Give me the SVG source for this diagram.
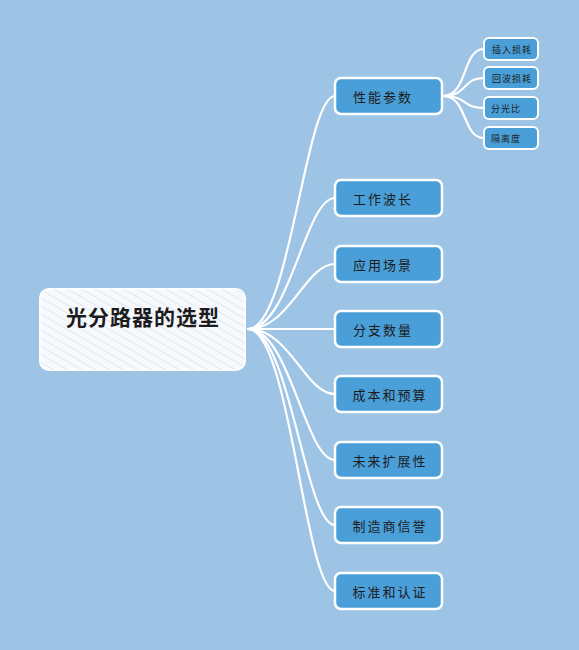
<svg xmlns="http://www.w3.org/2000/svg" width="579" height="650" viewBox="0 0 579 650">
<defs>
<style>
.bg{fill:#9dc3e5}
.root{fill:#f7f9fc;stroke:#ffffff;stroke-width:2}
.br{fill:#4a9fd8;stroke:#ffffff;stroke-width:2.5}
.sub{fill:#4a9fd8;stroke:#ffffff;stroke-width:2}
.t{font-family:"Noto Sans CJK SC","Noto Sans",sans-serif;fill:#1c1c1c;text-anchor:middle;dominant-baseline:central}
.tr{font-size:21px;font-weight:bold;letter-spacing:1px}
.tb{font-size:13px;letter-spacing:2px}
.ts{font-size:9px;letter-spacing:1px}
.c{fill:none;stroke:#ffffff;stroke-width:2.2;stroke-linecap:round}
</style>
<pattern id="hatch" width="7" height="7" patternUnits="userSpaceOnUse" patternTransform="rotate(-60)">
<line x1="0" y1="0" x2="0" y2="7" stroke="#bcd0e8" stroke-width="0.8"/>
</pattern>
</defs>
<rect class="bg" x="0" y="0" width="579" height="650"/>
<g id="connectors">
<path class="c" d="M248,329 C290,329 305,96 335,96"/>
<path class="c" d="M248,329 C290,329 305,198 335,198"/>
<path class="c" d="M248,329 C290,329 305,264 335,264"/>
<path class="c" d="M248,329 L335,329"/>
<path class="c" d="M248,329 C290,329 305,394 335,394"/>
<path class="c" d="M248,329 C290,329 305,460 335,460"/>
<path class="c" d="M248,329 C290,329 305,525 335,525"/>
<path class="c" d="M248,329 C290,329 305,591 335,591"/>
<path class="c" d="M443,96 C468,96 462,49 484,49"/>
<path class="c" d="M443,96 C468,96 462,78 484,78"/>
<path class="c" d="M443,96 C468,96 462,108 484,108"/>
<path class="c" d="M443,96 C468,96 462,138 484,138"/>
</g>
<g id="root">
<rect class="root" x="40" y="289" width="205" height="81" rx="9"/>
<rect x="40" y="289" width="205" height="81" rx="9" fill="url(#hatch)"/>
<text class="t tr" x="143" y="316">光分路器的选型</text>
</g>
<g id="n1"><rect class="br" x="335" y="78" width="107" height="36" rx="6"/><text class="t tb" x="383" y="96">性能参数</text></g>
<g id="n2"><rect class="br" x="335" y="180" width="107" height="36" rx="6"/><text class="t tb" x="383" y="198">工作波长</text></g>
<g id="n3"><rect class="br" x="335" y="246" width="107" height="36" rx="6"/><text class="t tb" x="383" y="264">应用场景</text></g>
<g id="n4"><rect class="br" x="335" y="311" width="107" height="36" rx="6"/><text class="t tb" x="383" y="329">分支数量</text></g>
<g id="n5"><rect class="br" x="335" y="376" width="107" height="36" rx="6"/><text class="t tb" x="390" y="394">成本和预算</text></g>
<g id="n6"><rect class="br" x="335" y="442" width="107" height="36" rx="6"/><text class="t tb" x="390" y="460">未来扩展性</text></g>
<g id="n7"><rect class="br" x="335" y="507" width="107" height="36" rx="6"/><text class="t tb" x="390" y="525">制造商信誉</text></g>
<g id="n8"><rect class="br" x="335" y="573" width="107" height="36" rx="6"/><text class="t tb" x="390" y="591">标准和认证</text></g>
<g id="s1"><rect class="sub" x="484" y="38" width="54" height="22" rx="5"/><text class="t ts" x="512" y="49">插入损耗</text></g>
<g id="s2"><rect class="sub" x="484" y="67" width="54" height="22" rx="5"/><text class="t ts" x="512" y="78">回波损耗</text></g>
<g id="s3"><rect class="sub" x="484" y="97" width="54" height="22" rx="5"/><text class="t ts" x="506" y="108">分光比</text></g>
<g id="s4"><rect class="sub" x="484" y="127" width="54" height="22" rx="5"/><text class="t ts" x="506" y="138">隔离度</text></g>
</svg>
